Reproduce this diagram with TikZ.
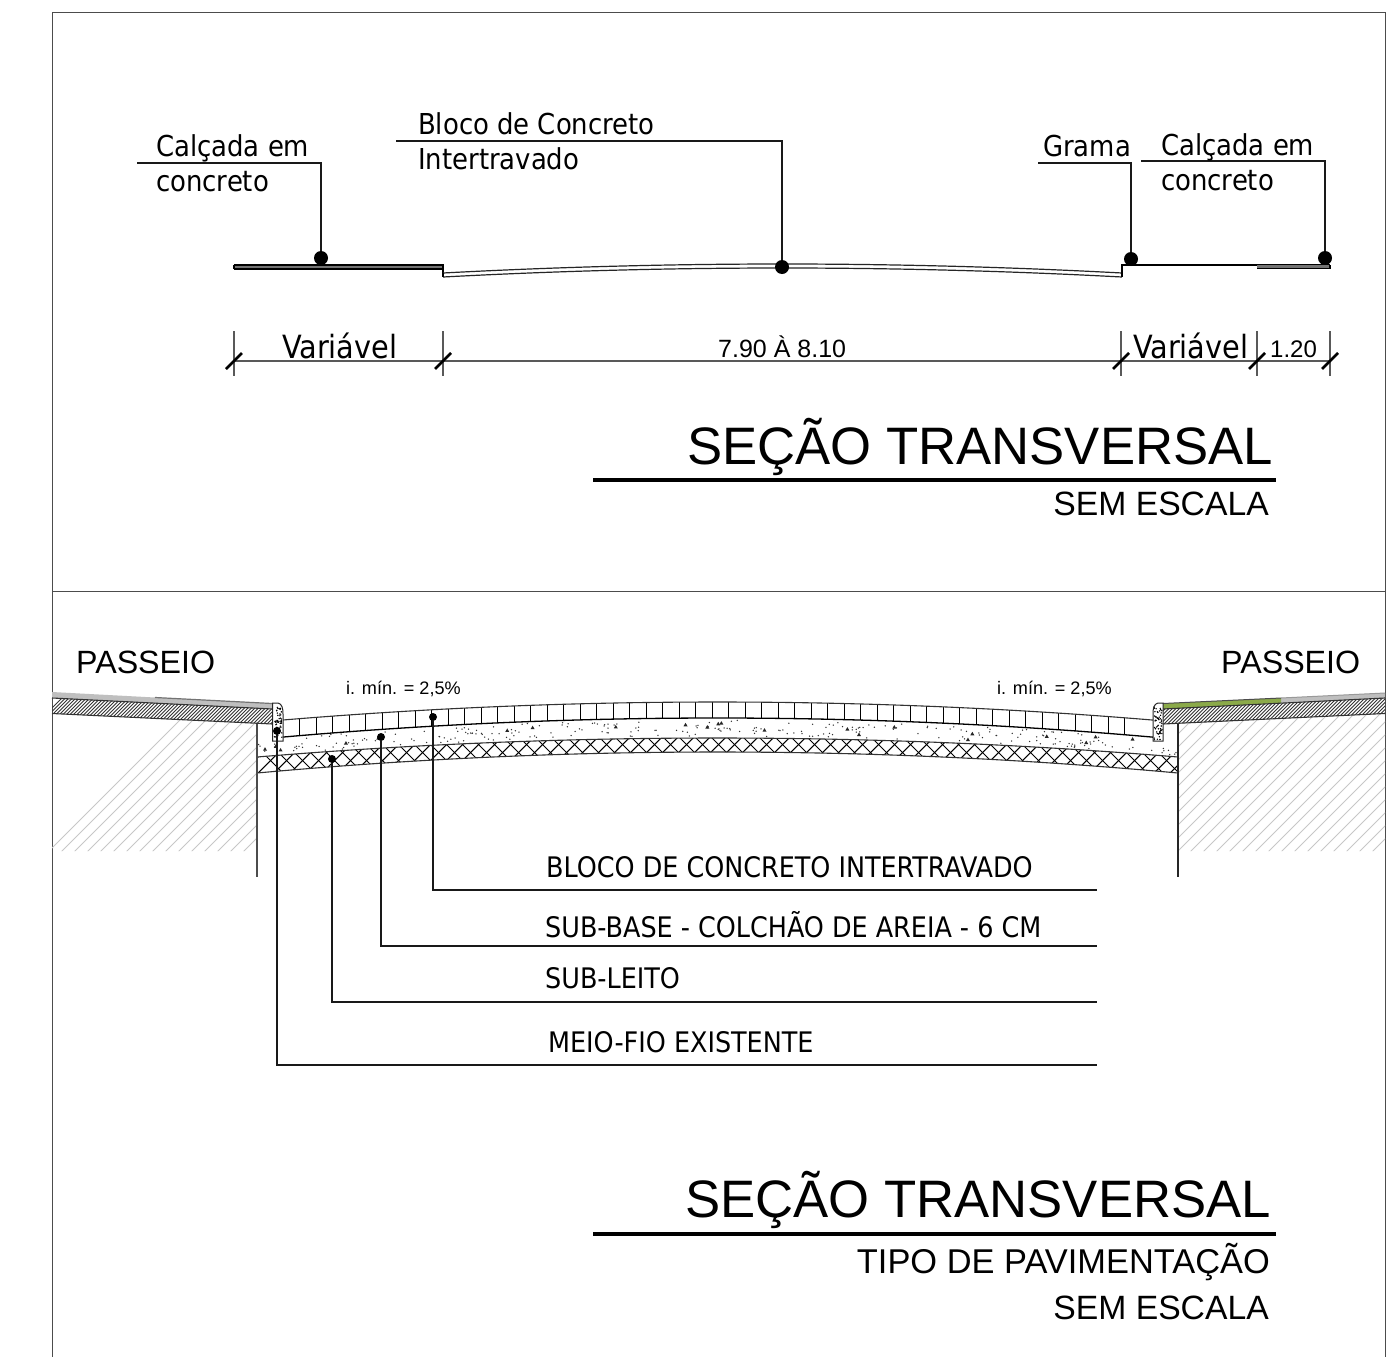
\documentclass[tikz,border=0pt]{standalone}
\usepackage{fontspec}
\setmainfont{Liberation Sans}
\newfontfamily\tah{DejaVu Sans Condensed}
\definecolor{grass}{RGB}{139,170,73}
\begin{document}
\begin{tikzpicture}[x=1pt,y=-1pt,
  declare function={roadc(\t,\a,\d)=\a+\d*((\t-717.5)/460.5)*((\t-717.5)/460.5);
                    topc(\t,\a,\d)=\a+\d*((\t-782.5)/339.5)*((\t-782.5)/339.5);},
  frameline/.style={draw=black!70,line width=1pt},
  leader/.style={draw=black!90,line width=1.2pt},
  dim/.style={draw=black!65,line width=1.2pt},
  tick/.style={draw=black,line width=2.6pt},
  dot/.style={circle,fill=black,inner sep=0pt,minimum size=#1},
  ttl/.style={anchor=base east,inner sep=0pt,font=\fontsize{52.7}{56}\selectfont},
  sub/.style={anchor=base east,inner sep=0pt,font=\fontsize{33.7}{38}\selectfont},
  pas/.style={anchor=base west,inner sep=0pt,font=\fontsize{32.2}{36}\selectfont},
  note/.style={anchor=base west,inner sep=0pt,font=\fontsize{18.1}{20}\selectfont},
  call/.style={anchor=base west,inner sep=0pt,font=\fontsize{28.8}{32}\selectfont\tah},
  varl/.style={anchor=base west,inner sep=0pt,font=\fontsize{32}{36}\selectfont\tah},
  lay/.style={anchor=base west,inner sep=0pt,font=\fontsize{28.3}{32}\selectfont\tah},
  soil/.style={draw=black!22,line width=1pt},
  dense/.style={draw=black!80,line width=1pt},
  band/.style={draw=black!80,line width=1.1pt},
  cross/.style={draw=black,line width=1.05pt}]
\useasboundingbox (0,0) rectangle (1387,1357);
\fill[white] (0,0) rectangle (1387,1357);
% frame
\draw[frameline] (52,1357) -- (52,12) -- (1385,12) -- (1385,1357);
\draw[frameline] (52,591) -- (1385,591);

% ---------- upper section ----------
\fill[black!55] (234,265) rectangle (443,269);
\draw[black,line width=1.1pt] (234,265) -- (443,265) -- (443,276);
\draw[black,line width=1.1pt] (234,269) -- (443,269) (234,265) -- (234,269);
\draw[black!85,line width=1.2pt] plot[domain=443:1122,samples=50] (\x,{topc(\x,264,9)});
\draw[black!85,line width=1.2pt] plot[domain=443:1122,samples=50] (\x,{topc(\x,268,9)});
\draw[black,line width=1.1pt] (443,273) -- (443,277);
\draw[black,line width=1.1pt] (1122,277) -- (1122,265) -- (1330,265);
\fill[black!55] (1257,265) rectangle (1330,268.5);
\draw[black,line width=1.1pt] (1257,268.5) -- (1330,268.5) -- (1330,265);

\node[dot=14pt] (d1) at (321,258) {};
\node[dot=14pt] (d2) at (782,267) {};
\node[dot=14pt] (d3) at (1131,259) {};
\node[dot=14pt] (d4) at (1325,258) {};
\coordinate (e1) at (137,163);
\coordinate (e2) at (396,141);
\coordinate (e3) at (1038,163);
\coordinate (e4) at (1141,161);
\draw[leader] (d1) |- (e1);
\draw[leader] (d2) |- (e2);
\draw[leader] (d3) |- (e3);
\draw[leader] (d4) |- (e4);
\node[call] (t1) at (156,156) {Calçada em};
\node[call] (t2) at (156,191) {concreto};
\node[call] (t3) at (418,134) {Bloco de Concreto};
\node[call] (t4) at (418,169) {Intertravado};
\node[call] (t5) at (1043,156) {Grama};
\node[call] (t6) at (1161,155) {Calçada em};
\node[call] (t7) at (1161,190) {concreto};

% dimension line
\coordinate (a1) at (234,361);
\coordinate (a2) at (443,361);
\coordinate (a3) at (1121,361);
\coordinate (a4) at (1257,361);
\coordinate (a5) at (1330,361);
\draw[dim] (a1) -- (a2) -- (a3) -- (a4) -- (a5);
\foreach \p in {a1,a2,a3,a4,a5}{
  \draw[dim] ([yshift=30pt]\p) -- ([yshift=-15pt]\p);
  \draw[tick] ([shift={(-8pt,-8pt)}]\p) -- ([shift={(8pt,8pt)}]\p);
}
\node[varl] (v1) at (282,358) {Variável};
\node[varl] (v2) at (1133,358) {Variável};
\node[anchor=base west,inner sep=0pt,font=\fontsize{25}{28}\selectfont] (v3) at (718,357) {7.90 À 8.10};
\node[anchor=base west,inner sep=0pt,font=\fontsize{24}{28}\selectfont] (v4) at (1270,357) {1.20};

\node[ttl] (ti1) at (1273.2,464) {SEÇÃO TRANSVERSAL};
\coordinate (u1) at (593,480);
\coordinate (u2) at (1276,480);
\draw[black,line width=3.2pt] (u1) -- (u2);
\node[sub] (su1) at (1269,515) {SEM ESCALA};

% ---------- lower section ----------
% soil hatching, left and right
\begin{scope}
  \clip (52,713) -- (257,724) -- (257,851) -- (52,851) -- cycle;
  \foreach \s in {40,53,...,430}{\draw[soil] (\s,860) -- ++(170,-170);}
\end{scope}
\begin{scope}
  \clip (1178,724) -- (1385,714) -- (1385,851) -- (1178,851) -- cycle;
  \foreach \s in {1000,1013,...,1400}{\draw[soil] (\s,860) -- ++(170,-170);}
\end{scope}
% sidewalk layers, left
\fill[black!25] (52,692) -- (155,697.5) -- (272,703.5) -- (272,709) -- (52,698) -- cycle;
\draw[black!55,line width=1.2pt] (155,697.5) -- (272,703.5);
\begin{scope}
  \clip (52,698) -- (272.5,709) -- (272.5,724) -- (52,713.5) -- cycle;
  \foreach \s in {30,33.5,...,290}{\draw[dense] (\s,730) -- ++(40,-40);}
\end{scope}
\draw[band] (52,698) -- (272.5,709);
\draw[band] (52,713.5) -- (272.5,724);
% sidewalk layers, right
\fill[black!25] (1281,698) -- (1385,693) -- (1385,698) -- (1281,703) -- cycle;
\fill[grass] (1163,703.5) -- (1281,698) -- (1281,703) -- (1163,709) -- cycle;
\draw[black!70,line width=1pt] (1163,703.5) -- (1281,698);
\draw[black!40,line width=1pt] (1281,698) -- (1385,693);
\begin{scope}
  \clip (1163,709) -- (1385,698) -- (1385,713.5) -- (1163,724) -- cycle;
  \foreach \s in {1130,1133.5,...,1390}{\draw[dense] (\s,730) -- ++(40,-40);}
\end{scope}
\draw[band] (1163,709) -- (1385,698);
\draw[band] (1163,724) -- (1385,713.5);

% cross-hatched layer
\begin{scope}
  \clip plot[domain=257:1178,samples=50] (\x,{roadc(\x,738,19)}) -- plot[domain=1178:257,samples=50] (\x,{roadc(\x,752,21)}) -- cycle;
  \foreach \s in {240,256,...,1190}{
    \draw[cross] (\s,775) -- ++(45,-45);
    \draw[cross] (\s,730) -- ++(45,45);
  }
\end{scope}
\draw[band] plot[domain=257:1178,samples=50] (\x,{roadc(\x,738,19)});
\draw[band] plot[domain=257:1178,samples=50] (\x,{roadc(\x,752,21)});

% sand stipple
\pgfmathsetseed{1234}
\foreach \i in {1,...,260}{
  \pgfmathsetmacro{\px}{257+921*rnd}
  \pgfmathsetmacro{\pt}{0.08+0.84*rnd}
  \pgfmathsetmacro{\py}{roadc(\px,718,21.4)+\pt*(roadc(\px,738,19)-roadc(\px,718,21.4))}
  \fill[black!80] (\px,\py) circle (0.75);
}
\foreach \i in {1,...,22}{
  \pgfmathsetmacro{\px}{262+911*rnd}
  \pgfmathsetmacro{\pt}{0.2+0.6*rnd}
  \pgfmathsetmacro{\py}{roadc(\px,718,21.4)+\pt*(roadc(\px,738,19)-roadc(\px,718,21.4))}
  \fill[black!85] (\px-2,\py+1.5) -- (\px+2,\py+1.5) -- (\px,\py-2) -- cycle;
}

% blocks
\foreach \s in {299.5,316,...,1140}{
  \draw[black,line width=1pt] (\s,{roadc(\s,702,20.2)}) -- (\s,{roadc(\s,718,21.4)});
}
\draw[band] plot[domain=283:1153,samples=50] (\x,{roadc(\x,702,20.2)});
\draw[black,line width=1.3pt] plot[domain=283:1153,samples=50] (\x,{roadc(\x,718,21.4)});

% kerbs
\fill[white] (272.5,703) -- (278,703) .. controls (282,704) and (283,708) .. (283,714) -- (283,741) -- (272.5,741) -- cycle;
\fill[white] (1163,703) -- (1158,703) .. controls (1154,704) and (1153,708) .. (1153,714) -- (1153,741) -- (1163,741) -- cycle;
\foreach \i in {1,...,55}{
  \pgfmathsetmacro{\px}{274+8*rnd}
  \pgfmathsetmacro{\py}{707+33*rnd}
  \fill[black] (\px,\py) circle (0.8);
  \pgfmathsetmacro{\px}{1154+8*rnd}
  \pgfmathsetmacro{\py}{707+33*rnd}
  \fill[black] (\px,\py) circle (0.8);
}
\draw[black!85,line width=1pt] (272.5,703) -- (278,703) .. controls (282,704) and (283,708) .. (283,714) -- (283,741) -- (272.5,741) -- cycle;
\draw[black!85,line width=1pt] (1163,703) -- (1158,703) .. controls (1154,704) and (1153,708) .. (1153,714) -- (1153,741) -- (1163,741) -- cycle;

% trench sides
\draw[black!70,line width=1.1pt] (257,724) -- (257,877);
\draw[black!85,line width=1.1pt] (1178,724) -- (1178,877);

% layer leaders
\node[dot=8pt] (b1) at (433,717) {};
\node[dot=8pt] (b2) at (381,737) {};
\node[dot=8pt] (b3) at (332,759) {};
\node[dot=8pt] (b4) at (277,731) {};
\coordinate (f1) at (1097,890);
\coordinate (f2) at (1097,946);
\coordinate (f3) at (1097,1002);
\coordinate (f4) at (1097,1065);
\draw[leader] (b1) |- (f1);
\draw[leader] (b2) |- (f2);
\draw[leader] (b3) |- (f3);
\draw[leader] (b4) |- (f4);
\node[lay] (l1) at (546,877) {BLOCO DE CONCRETO INTERTRAVADO};
\node[lay] (l2) at (545,937) {SUB-BASE - COLCHÃO DE AREIA - 6 CM};
\node[lay] (l3) at (545,988) {SUB-LEITO};
\node[lay] (l4) at (548,1052) {MEIO-FIO EXISTENTE};

\node[pas] (p1) at (76,673) {PASSEIO};
\node[pas] (p2) at (1221,673) {PASSEIO};
\node[note] (n1) at (346,694) {i. mín. = 2,5\%};
\node[note] (n2) at (997,694) {i. mín. = 2,5\%};

\node[ttl] (ti2) at (1271.2,1217) {SEÇÃO TRANSVERSAL};
\coordinate (u3) at (593,1234);
\coordinate (u4) at (1276,1234);
\draw[black,line width=3.2pt] (u3) -- (u4);
\node[sub,font=\fontsize{34.4}{38}\selectfont] (su2) at (1270,1273) {TIPO DE PAVIMENTAÇÃO};
\node[sub] (su3) at (1269,1319) {SEM ESCALA};
\end{tikzpicture}
\end{document}
